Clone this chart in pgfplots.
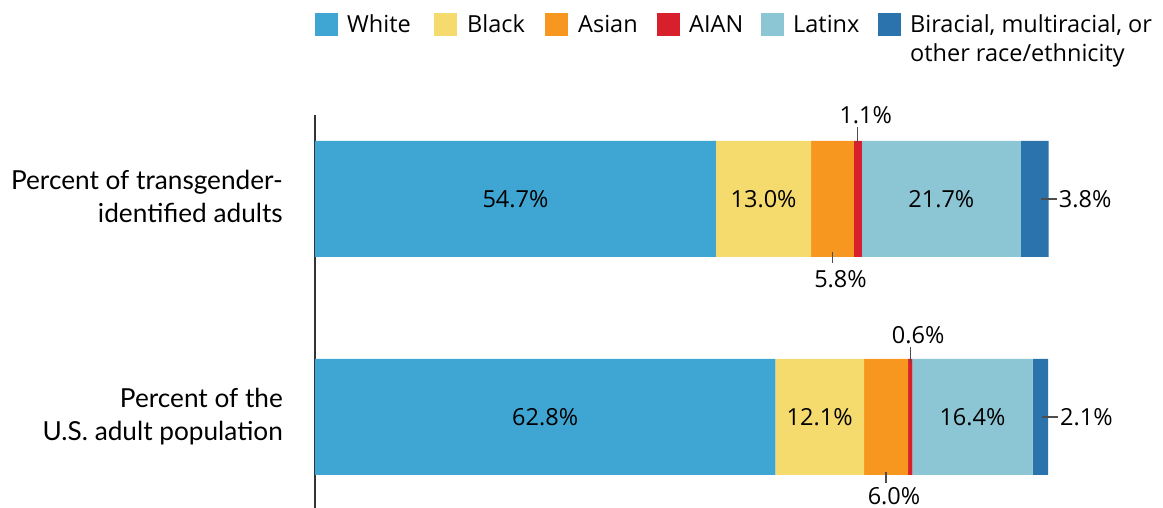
\documentclass[border=0pt]{standalone}
\usepackage{pgfplots}
\pgfplotsset{compat=1.18}
\usepackage{fontspec}
\setmainfont{Open Sans}
\newfontfamily\latofont{Lato}
\definecolor{cWhite}{HTML}{3FA6D4}
\definecolor{cBlack}{HTML}{F5DB6E}
\definecolor{cAsian}{HTML}{F7971F}
\definecolor{cAIAN}{HTML}{D7202B}
\definecolor{cLatinx}{HTML}{8CC6D4}
\definecolor{cBi}{HTML}{2A73AD}
\definecolor{lead}{HTML}{4D4D4D}
\newcommand{\vfont}{\fontsize{23.5}{28}\selectfont}
\newcommand{\cfont}{\latofont\fontsize{26.2}{33}\selectfont}
\begin{document}
\begin{tikzpicture}[x=1pt,y=1pt]
\useasboundingbox (0,0) rectangle (1163,508);
% legend
\foreach \c/\sx/\tx/\lab in {cWhite/315/347/White, cBlack/434/467/Black, cAsian/545/578/Asian, cAIAN/657/689/AIAN, cLatinx/761/793/Latinx}{
  \fill[\c] (\sx,472) rectangle ++(23,23);
  \node[anchor=base west, inner sep=0pt, font=\vfont] at (\tx,475) {\lab};
}
\fill[cBi] (878,472) rectangle ++(23,23);
\node[anchor=base west, inner sep=0pt, font=\vfont] at (910,475) {Biracial, multiracial, or};
\node[anchor=base west, inner sep=0pt, font=\vfont] at (910,446) {other race/ethnicity};
% category labels
\node[anchor=base east, inner sep=0pt, font=\cfont] at (283,318) {Percent of transgender-};
\node[anchor=base east, inner sep=0pt, font=\cfont] at (283,285) {identified adults};
\node[anchor=base east, inner sep=0pt, font=\cfont] at (283,100) {Percent of the};
\node[anchor=base east, inner sep=0pt, font=\cfont] at (283,67) {U.S. adult population};
\begin{axis}[
  at={(315pt,0pt)}, anchor=south west,
  scale only axis, width=733pt, height=393pt,
  xmin=0, xmax=100, ymin=-0.4174, ymax=1.3853,
  xbar stacked, bar width=116pt,
  axis x line=none, axis y line=left,
  axis line style={-, draw=black!80, line width=1.2pt},
  xtick=\empty, ytick=\empty, clip=false,
]
\addplot[fill=cWhite, draw=none] coordinates {(54.7,1) (62.8,0)};
\addplot[fill=cBlack, draw=none] coordinates {(13.0,1) (12.1,0)};
\addplot[fill=cAsian, draw=none] coordinates {(5.8,1) (6.0,0)};
\addplot[fill=cAIAN, draw=none] coordinates {(1.1,1) (0.6,0)};
\addplot[fill=cLatinx, draw=none] coordinates {(21.7,1) (16.4,0)};
\addplot[fill=cBi, draw=none] coordinates {(3.8,1) (2.1,0)};
\coordinate (w1) at (axis cs:27.35,1);
\coordinate (b1) at (axis cs:61.2,1);
\coordinate (a1) at (axis cs:70.6,1);
\coordinate (n1) at (axis cs:74.05,1);
\coordinate (l1) at (axis cs:85.45,1);
\coordinate (r1) at (axis cs:100.1,1);
\coordinate (w2) at (axis cs:31.4,0);
\coordinate (b2) at (axis cs:68.85,0);
\coordinate (a2) at (axis cs:77.9,0);
\coordinate (n2) at (axis cs:81.2,0);
\coordinate (l2) at (axis cs:89.7,0);
\coordinate (r2) at (axis cs:100,0);
\end{axis}
% inside labels
\foreach \p/\t in {w1/54.7, b1/13.0, l1/21.7, w2/62.8, b2/12.1, l2/16.4}{
  \node[font=\vfont] at (\p) {\t\%};
}
% Asian (below)
\draw[lead, line width=1.2pt] ([yshift=-53pt]a1) -- ++(0,-11);
\node[font=\vfont, anchor=north, inner sep=0pt] at ([xshift=8pt,yshift=-71pt]a1) {5.8\%};
\draw[lead, line width=1.2pt] ([yshift=-55pt]a2) -- ++(0,-11);
\node[font=\vfont, anchor=north, inner sep=0pt] at ([xshift=8pt,yshift=-70pt]a2) {6.0\%};
% AIAN (above)
\draw[lead, line width=1.2pt] ([yshift=56pt]n1) -- ++(0,16);
\node[font=\vfont, anchor=base, inner sep=0pt] at ([xshift=8pt,yshift=75pt]n1) {1.1\%};
\draw[lead, line width=1.2pt] ([yshift=54pt]n2) -- ++(0,16);
\node[font=\vfont, anchor=base, inner sep=0pt] at ([xshift=8pt,yshift=73pt]n2) {0.6\%};
% Biracial (right)
\draw[lead, line width=1.2pt] ([xshift=-8pt]r1) -- ++(16,0);
\node[font=\vfont, anchor=west, inner sep=0pt] at ([xshift=10pt]r1) {3.8\%};
\draw[lead, line width=1.2pt] ([xshift=-6pt]r2) -- ++(16,0);
\node[font=\vfont, anchor=west, inner sep=0pt] at ([xshift=12pt]r2) {2.1\%};
\end{tikzpicture}
\end{document}
